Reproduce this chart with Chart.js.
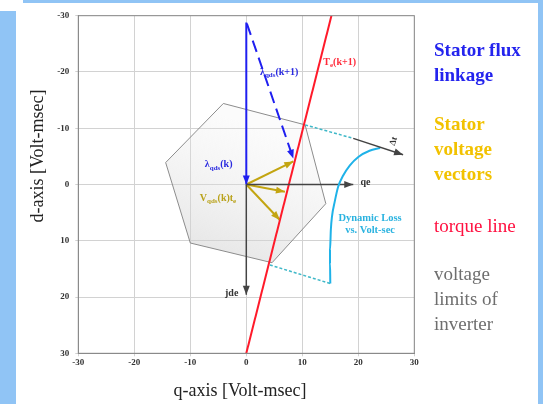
<!DOCTYPE html>
<html>
<head>
<meta charset="utf-8">
<script src="https://cdn.jsdelivr.net/npm/chart.js@4.4.1/dist/chart.umd.min.js"></script>
<style>
  html, body { margin: 0; padding: 0; width: 543px; height: 404px; overflow: hidden; background: #fff; }
  .band { position: absolute; background: #90c4f5; }
  #wrap { position: absolute; left: 0; top: 0; width: 543px; height: 404px; }
  .leg { position: absolute; left: 434px; font-family: "Liberation Serif", serif; font-size: 19px; line-height: 25px; }
</style>
</head>
<body>
<div class="band" style="left:23px;top:0;width:520px;height:3px"></div>
<div class="band" style="left:0;top:11px;width:16px;height:393px"></div>
<div class="band" style="left:538px;top:0;width:5px;height:404px"></div>
<div id="wrap"><canvas id="chart" width="543" height="404"></canvas></div>
<div class="leg" style="top:37px;color:#2424ee;font-weight:bold">Stator flux<br>linkage</div>
<div class="leg" style="top:111px;color:#f2c200;font-weight:bold">Stator<br>voltage<br>vectors</div>
<div class="leg" style="top:213px;color:#ff1040">torque line</div>
<div class="leg" style="top:261px;color:#6e6e6e">voltage<br>limits of<br>inverter</div>
<script>
// axis ticks
const xTicks = [-30, -20, -10, 0, 10, 20, 30];
const yTicks = [-30, -20, -10, 0, 10, 20, 30];

// torque line Te(k+1)
const torqueQ = [0, 15.2];
const torqueD = [30, -30];

// stator flux linkage (blue)
const fluxKQ = [0, 0];
const fluxKD = [-28.8, 0];
const fluxK1Q = [0.1, 8.4];
const fluxK1D = [-28.6, -4.6];

// stator voltage vectors (gold), all from origin
const voltQ = [8.4, 6.9, 6.0];
const voltD = [-4.1, 1.3, 6.3];

// reference frame axes qe / jde
const qeQ = [0, 19.1];
const qeD = [0, 0];
const jdeQ = [0, 0];
const jdeD = [0, 19.6];

// voltage limit hexagon of inverter
const hexQ = [-4.1, 10.5, 14.2, 4.6, -10.0, -14.4, -4.1];
const hexD = [-14.4, -10.6, 3.4, 13.9, 10.4, -3.9, -14.4];

// extensions of the hexagon edges
const dashTopQ = [10.5, 19.1];
const dashTopD = [-10.6, -8.2];
const deltaQ = [19.1, 28.0];
const deltaD = [-8.2, -5.3];
const dashBotQ = [4.2, 15.0];
const dashBotD = [14.3, 17.6];

// dynamic loss vs volt-sec curve (cyan)
const lossQ = [15.0, 14.95, 14.95, 15.1, 15.3, 15.8, 16.4, 17.3, 18.5, 20.0, 22.0, 23.9];
const lossD = [17.6, 14.0, 11.6, 8.0, 5.7, 3.0, 0.4, -1.6, -3.4, -4.9, -6.0, -6.5];

const pts = (qs, ds) => qs.map((q, i) => ({ x: q, y: ds[i] }));

function line(data, color, width, extra) {
  return Object.assign({
    data: data, borderColor: color, backgroundColor: color, borderWidth: width,
    showLine: true, pointRadius: 0, fill: false, tension: 0
  }, extra || {});
}

// soft grey fill, darker toward the bottom left like the original shading
function hexFill(c) {
  const ca = c.chart.chartArea;
  if (!ca) return 'rgba(205,205,205,0.3)';
  const g = c.chart.ctx.createLinearGradient(ca.left + 120, ca.top + 90, ca.left + 60, ca.top + 250);
  g.addColorStop(0, 'rgba(235,235,235,0.2)');
  g.addColorStop(1, 'rgba(200,200,200,0.6)');
  return g;
}

const datasets = [
  // hexagon goes behind everything else
  line(pts(hexQ, hexD), '#8c8c8c', 1, { fill: 'shape', backgroundColor: hexFill, order: 10 }),
  line(pts(dashBotQ, dashBotD), '#3fb8c8', 1.5, { borderDash: [3, 2] }),
  line(pts(dashTopQ, dashTopD), '#3fb8c8', 1.5, { borderDash: [3, 2] }),
  line(pts(deltaQ, deltaD), '#444', 1.5, { arrow: true }),
  line(pts(lossQ, lossD), '#1fb2e8', 2, { cubicInterpolationMode: 'monotone', tension: 0.4 }),
  line(pts(qeQ, qeD), '#444', 1.5, { arrow: true }),
  line(pts(jdeQ, jdeD), '#444', 1.5, { arrow: true }),
  line(pts(torqueQ, torqueD), '#ff1a2a', 2),
  line(pts(fluxKQ, fluxKD), '#1f1ff0', 2, { arrow: true }),
  line(pts(fluxK1Q, fluxK1D), '#1f1ff0', 2, { arrow: true, borderDash: [12, 6] })
];
voltQ.forEach((q, i) => {
  datasets.push(line([{ x: 0, y: 0 }, { x: q, y: voltD[i] }], '#c3a511', 2, { arrow: true }));
});

// text labels: [q, d, parts, color]
const labels = [
  [13.75, -21.7, [['T', 0], ['e', 1], ['(k+1)', 0]], '#ff2a3a'],
  [2.45, -20.0, [['λ', 0], ['qds', 1], ['(k+1)', 0]], '#2a2ae0'],
  [-7.4, -3.5, [['λ', 0], ['qds', 1], ['(k)', 0]], '#2a2ae0'],
  [-8.3, 2.5, [['V', 0], ['qds', 1], ['(k)t', 0], ['e', 1]], '#b9a21a'],
  [20.4, -0.3, [['qe', 0]], '#333'],
  [-3.8, 19.3, [['jde', 0]], '#333']
];

const arrowPlugin = {
  id: 'arrows',
  afterDatasetsDraw(chart) {
    const ctx = chart.ctx;
    chart.data.datasets.forEach((ds, i) => {
      if (!ds.arrow) return;
      const els = chart.getDatasetMeta(i).data;
      const a = els[els.length - 2], b = els[els.length - 1];
      const ang = Math.atan2(b.y - a.y, b.x - a.x);
      const len = 9, w = 3.5;
      ctx.save();
      ctx.translate(b.x, b.y);
      ctx.rotate(ang);
      ctx.fillStyle = ds.borderColor;
      ctx.beginPath();
      ctx.moveTo(0, 0);
      ctx.lineTo(-len, -w);
      ctx.lineTo(-len, w);
      ctx.closePath();
      ctx.fill();
      ctx.restore();
    });
  },
  afterDraw(chart) {
    const ctx = chart.ctx;
    const xs = chart.scales.x, ys = chart.scales.y;
    ctx.save();
    labels.forEach(([q, d, parts, color]) => {
      let x = xs.getPixelForValue(q);
      const y = ys.getPixelForValue(d);
      ctx.fillStyle = color;
      ctx.textBaseline = 'middle';
      parts.forEach(([t, sub]) => {
        ctx.font = sub ? 'bold 7px "Liberation Serif"' : 'bold 10px "Liberation Serif"';
        ctx.fillText(t, x, sub ? y + 3 : y);
        x += ctx.measureText(t).width;
      });
    });
    // delta t label
    ctx.fillStyle = '#333';
    ctx.font = 'bold 9px "Liberation Serif"';
    ctx.translate(xs.getPixelForValue(26.3), ys.getPixelForValue(-7.7));
    ctx.rotate(-1.25);
    ctx.textAlign = 'center';
    ctx.textBaseline = 'middle';
    ctx.fillText('Δt', 0, 0);
    ctx.restore();

    ctx.save();
    ctx.fillStyle = '#2bb3e0';
    ctx.font = 'bold 10.5px "Liberation Serif"';
    ctx.textAlign = 'center';
    ctx.textBaseline = 'middle';
    ctx.fillText('Dynamic Loss', xs.getPixelForValue(22.1), ys.getPixelForValue(6.0));
    ctx.fillText('vs. Volt-sec', xs.getPixelForValue(22.1), ys.getPixelForValue(8.1));

    // axis titles
    ctx.fillStyle = '#222';
    ctx.font = '18px "Liberation Serif"';
    ctx.fillText('q-axis [Volt-msec]', 240, 391);
    ctx.translate(38, 156);
    ctx.rotate(-Math.PI / 2);
    ctx.fillText('d-axis [Volt-msec]', 0, 0);
    ctx.restore();

    // plot frame
    const ca = chart.chartArea;
    ctx.save();
    ctx.strokeStyle = '#8a8a8a';
    ctx.lineWidth = 1;
    ctx.strokeRect(ca.left, ca.top, ca.right - ca.left, ca.bottom - ca.top);
    ctx.restore();
  }
};

new Chart(document.getElementById('chart'), {
  type: 'scatter',
  data: { datasets: datasets },
  plugins: [arrowPlugin],
  options: {
    responsive: false,
    animation: false,
    layout: { padding: { top: 15.7, right: 128.7, left: 0, bottom: 0 } },
    plugins: { legend: { display: false }, tooltip: { enabled: false } },
    scales: {
      x: {
        type: 'linear', min: -30, max: 30,
        afterBuildTicks: s => { s.ticks = xTicks.map(v => ({ value: v })); },
        afterFit: s => { s.height = 50.7; },
        grid: { color: '#d2d2d2', tickLength: 3 },
        border: { color: '#8a8a8a' },
        ticks: { color: '#333', padding: 1, font: { family: 'Liberation Serif', size: 9, weight: 'bold' } }
      },
      y: {
        type: 'linear', min: -30, max: 30, reverse: true,
        afterBuildTicks: s => { s.ticks = yTicks.map(v => ({ value: v })); },
        afterFit: s => { s.width = 78.3; },
        grid: { color: '#d2d2d2', tickLength: 3 },
        border: { color: '#8a8a8a' },
        ticks: { color: '#333', padding: 6, font: { family: 'Liberation Serif', size: 9, weight: 'bold' } }
      }
    }
  }
});
</script>
</body>
</html>
